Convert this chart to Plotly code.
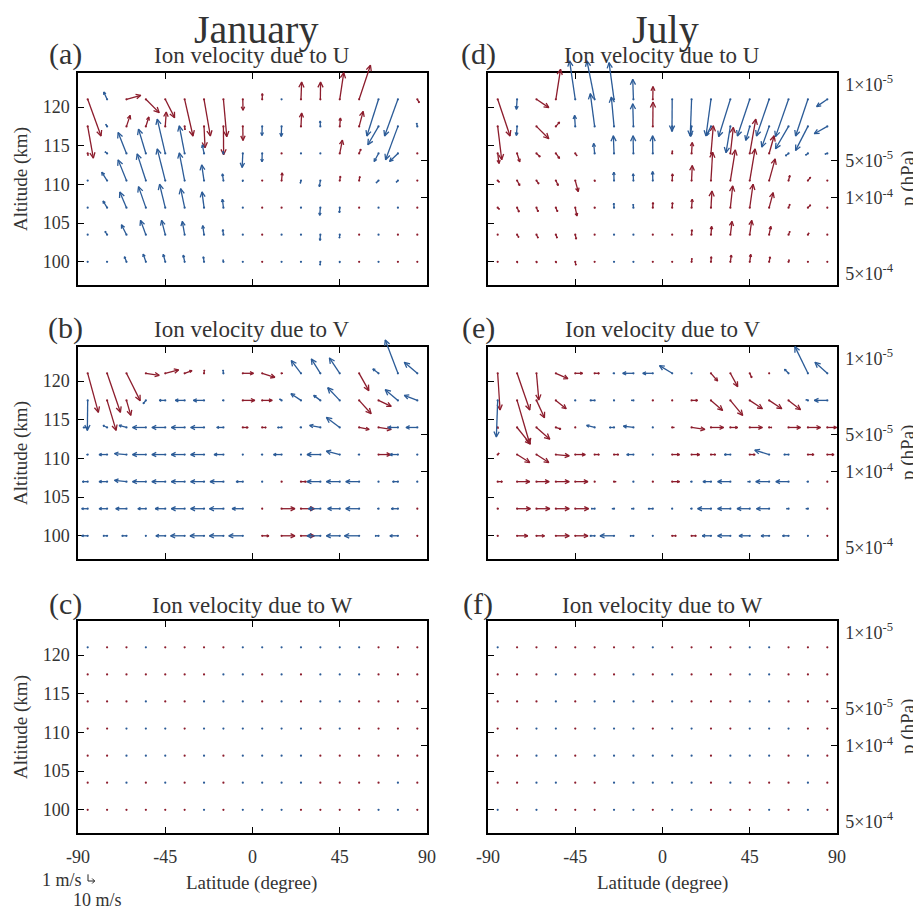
import math
import plotly.graph_objects as go

# ---------------- data ----------------
LAT = [-85, -75, -65, -55, -45, -35, -25, -15, -5, 5, 15, 25, 35, 45, 55, 65, 75, 85]
ALT = [100, 103.5, 107, 110.5, 114, 117.5, 121]          # km (rows, bottom -> top)
LAT_TICKS = [-90, -45, 0, 45, 90]
LAT_TICKTEXT = ["-90", "-45", "0", "45", "90"]
ALT_TICKS = [100, 105, 110, 115, 120]
P_TICKS = [1e-5, 5e-5, 1e-4, 5e-4]
P_TICKTEXT = ["<br>1×10<sup>-5</sup>", "5×10<sup>-5</sup>", "1×10<sup>-4</sup>", "5×10<sup>-4</sup><br> "]

# Ion velocity components (m/s): u = horizontal (meridional), w = vertical
JAN_U_u = [
    [-0.5, -1, -3, -4, -3, -2, -1, -0.5, -0.3, 0.5, -0.3, -0.3, -0.5, -0.5, 0.2, -0.3, 0.5, 0.3],
    [-0.5, -3, -7.5, -8, -5.5, -3.5, -2, -1, -0.3, 0.5, -0.3, -0.3, -0.5, -0.5, 0.5, -0.3, 0.1, 0.5],
    [-0.5, -6, -10, -11, -8.5, -6, -3, -1.5, -0.3, 0.5, 0.5, -0.5, -1, -0.5, 0.5, -0.3, -0.3, 0.5],
    [-0.5, -8, -12.5, -13, -12, -8, -3.5, -1.5, -0.5, 0.5, 1, -1, -1.5, 1, 1, -3.5, -2.5, 0.5],
    [0.5, -3, -12.5, -11, -12, -8, -2.5, -0.5, -1, -0.3, 0.3, -0.5, -0.3, 4, 2.5, -6.5, -12.5, 0.5],
    [8.5, -2, 5.5, 4.5, 1.5, 0.5, 1.5, 0.3, 0.3, -0.3, -0.5, 1, -0.3, 1, 6, -16, -18.5, -1],
    [20, -5, 21.5, 20, 14, 12.5, 9.5, 5, 0.3, 0.3, -0.3, 1, 0.3, 6, 17, -17.5, -20, 3],
]
JAN_U_w = [
    [0, 0.05, 0.75, 1.15, 1.1, 1.0, 0.75, 0.3, 0, 0, 0, 0, -0.5, -0.2, 0, 0, 0, 0],
    [0, 0.5, 1.5, 2.15, 2.15, 2.0, 1.35, 0.75, 0, 0, 0, 0, -0.85, -0.5, 0, 0, 0, 0],
    [0, 1.0, 2.35, 3.15, 3.5, 2.85, 2.35, 1.25, 0, 0, 0, 0.1, -1.15, -0.75, 0, 0, 0, 0],
    [0, 1.25, 3.1, 4.0, 4.75, 4.15, 2.35, 1.0, -0.2, 0, 1.15, -0.4, -0.9, 0.65, 0.6, -0.35, -0.25, 0],
    [-0.3, 0.25, 3.15, 3.65, 5.15, 4.15, 1.3, 0.3, -2.1, -1.25, 0, 0, 0, 2.0, 0.65, -1.2, -1.2, 0],
    [-4.75, 0.3, 1.65, 1.4, 2.15, -0.5, -3.2, -4.25, -2.1, -1.35, -1.5, 2.0, 0.8, 1.25, 2.25, -2.75, -5.0, 0.5],
    [-5.5, 1.1, 0.6, -2.0, -2.75, -5.5, -5.5, -5.6, -1.65, 0.85, 0, 2.6, 2.6, 4.0, 5.1, -5.5, -5.5, -0.5],
]

JAN_V_u = [
    [-9, -6, -7, -1, -14, -21, -21, -21, -21, 10, 20, 20, -20, -20, -22, -5, -12, 1],
    [-9, -12, -16, -12, -15, -20, -20, -21, -16, 1, 20, 20, -18, -18, -20, -2, -10, 1],
    [-8, -12, -18, -20, -20, -20, -20, -20, -10, -1, 1, 8, -20, -20, -20, -1, -8, -1],
    [-2, -12, -18, -20, -20, -20, -20, -14, -1, -2, -12, -0.5, -20, -20, -2, 18, -12, -1],
    [-7, -6, -11, -20, -20, -20, -20, -10, 8, 6, -6, -2, -16, -20, 15, 19, -15, -17],
    [-0.5, 13.5, 6.5, -4, -9, -14, -16, -2, 18, 15, -3, -15, -10, -18, 18, 19, -19, -19.5],
    [16, 20, 20.5, 20, 20, 11, 0.5, -0.5, 16, 19, 2, -14.5, -13.5, -15.5, 14.5, -8.5, -19, -19.5],
]
JAN_V_w = [
    [0] * 18,
    [0] * 18,
    [0, 0, 0.2, 0, 0, 0, 0, 0, 0, 0, 0, 0, 0, 0, 0, 0, 0, 0],
    [0, 0, 0.15, 0, 0, 0, 0, 0, 0, 0, 0, 0, 0, 0.5, 0, 0, 0, 0],
    [0, 0.3, 0.3, 0, 0, 0, 0, 0, 0, 0, 0, 0, 0.3, 1.5, -0.3, -0.3, 0, 0],
    [-4.5, -4.5, -2.25, -0.5, 0, 0, 0, 0, 0, 0, 0.2, 1.0, 0.75, 1.9, -2.0, -0.9, 1.6, 0.75],
    [-5.85, -5.85, -4.1, -0.3, 0.5, 0.4, 0.5, 0.5, 0, -0.6, 0, 1.9, 2.15, 2.3, -2.6, 0.65, 5.0, 1.65],
]

JAN_W_u = [
    [0.3, 0.3, 0.3, 0.3, 0.3, 0.3, -0.3, 0.3, -0.3, -0.3, -0.3, 0.3, 0.3, 0.3, 0.3, -0.3, -0.3, 0.3],
    [0.3, 0.3, -0.3, 0.3, -0.3, 0.3, -0.3, 0.3, -0.3, -0.3, -0.3, -0.3, 0.3, 0.3, 0.3, 0.3, -0.3, 0.3],
    [0.3, 0.3, -0.3, -0.3, -0.3, 0.3, -0.3, 0.3, -0.3, -0.3, -0.3, -0.3, 0.3, 0.3, 0.3, 0.3, 0.3, 0.3],
    [0.3, 0.3, -0.3, -0.3, -0.3, 0.3, -0.3, -0.3, -0.3, -0.3, -0.3, -0.3, 0.3, -0.3, 0.3, 0.3, 0.3, 0.3],
    [0.3, 0.3, 0.3, -0.3, 0.3, 0.3, -0.3, -0.3, -0.3, 0.3, -0.3, 0.3, -0.3, -0.3, 0.3, 0.3, 0.3, 0.3],
    [0.3, 0.3, 0.3, 0.3, 0.3, 0.3, 0.3, -0.3, -0.3, 0.3, -0.3, 0.3, -0.3, -0.3, -0.3, 0.3, 0.3, 0.3],
    [-0.3, 0.3, 0.3, -0.3, 0.3, 0.3, 0.3, 0.3, -0.3, -0.3, -0.3, -0.3, -0.3, -0.3, -0.3, 0.3, 0.3, 0.3],
]
JAN_W_w = [[0] * 18 for _ in range(7)]

JUL_U_u = [
    [0.5, 1, 1, 1, 1, 0.5, -0.3, -0.3, 0.3, 0.3, 0.5, 0.5, 1.5, 1.5, 1.5, 1, 0.5, 0.3],
    [0.5, 2.5, 2.5, 2, 1.5, 0.5, -0.3, -0.3, 0.3, 0.3, 0.5, 1, 2.5, 3, 2.5, 2, 1.5, 0.3],
    [2.5, 3, 2.5, 2.5, 2.5, 1, -0.3, -0.3, 0.3, 0.5, 1, 1.5, 3.5, 5, 6, 2, 4, 1],
    [2.5, 4, 3.5, 3.5, 4.5, 1, -0.3, -0.3, -0.3, 0.5, 1, 2.5, 7.5, 8, 9, 2, 4, 0.5],
    [2, 4, 5.5, 5.5, 2.5, -1.5, -1, -0.5, -0.3, 0.3, 1, 3.5, 4.5, 9, 7.5, -4.5, -3.5, -3.5],
    [6, -1, 18.5, 5.5, -1, -6.5, -4, -1, 0.3, -0.3, -1.5, -6.5, -6.5, -6, -11, -19.5, -18.5, -19.5],
    [18.5, -1, 18.5, 7, -8.5, -11.5, -7.5, -1, 0.3, -0.3, -2, -7.5, -17.5, -18.5, -19, -19.5, -18.5, -16],
]
JUL_U_w = [
    [0, -0.2, -0.2, -0.2, -0.5, 0, 0, 0, 0, 0, 0.5, 0.75, 1.0, 1.1, 0.75, 0.3, 0, 0],
    [0, -0.4, -0.5, -0.5, -0.65, 0, 0, 0, 0, 0, 0.75, 1.25, 2.0, 2.15, 1.25, 0.5, 0.25, 0],
    [-0.25, -0.65, -0.6, -0.6, -1.25, -0.1, 0.65, 0.5, 0.75, 0.75, 1.25, 2.5, 3.25, 3.5, 2.25, 0.5, 0.4, 0],
    [-0.25, -0.75, -0.5, -0.75, -1.65, -0.15, 1.25, 1.0, 1.35, 1.0, 2.25, 4.25, 4.6, 4.75, 3.25, 0.75, 0.5, 0],
    [-1.5, -1.25, -0.5, -0.75, -0.35, 1.5, 2.65, 2.65, 2.65, 0.4, 1.65, 4.15, 3.9, 5.15, 2.65, -0.35, -0.25, -0.1],
    [-5.0, -1.35, -1.85, 0.65, 1.65, 4.9, 4.4, 3.4, 3.65, -0.75, -1.5, -1.35, -3.95, -2.1, -3.1, -3.35, -3.6, -1.1],
    [-5.5, -1.5, -1.25, 4.5, 5.75, 5.75, 5.5, 3.0, 1.9, -4.75, -5.5, -5.5, -5.6, -5.5, -5.5, -5.6, -5.5, -1.1],
]

JUL_V_u = [
    [1, 16, 12, 20, 19, -7, -21, -5, -1, 6, 7, -13, -19, -16, -12, -9, -1, 1],
    [1.5, 20, 20, 20, 20, -5, -3, -3, -7, -1, -2, -20, -19, -19, -19, -3, -3, 1],
    [7, 19, 19, 20, 19, 1, 3, -1, 1, 11, -2, -12, -19, -3, -20, -19, -2, 1],
    [2, 19, 18.5, 20, 15, 7, 7, -10, -1, 11, 12, 7, -9, 8, -21.5, -7, 9, 10],
    [1, 20, 20, 7.5, 1, -12, -7, -15, -1, 3, 20, 19, 11, 19, 4, 18, 19, 14],
    [-2, 19, 12, 15.5, -1, -7, -1, -3, 1, 1, 9, 17.5, 18.5, 19, 19, 18, -3, -19.5],
    [3.5, 19, 3.5, 18, 11, 7, -2, -16, -15, -19, -1, 10, 11, 3, 1, -6, -19.5, -18.5],
]
JUL_V_w = [
    [0] * 18,
    [0] * 18,
    [0] * 18,
    [0.2, -1.2, -1.2, -0.2, 0, 0, 0, 0, 0, 0, 0, 0, 0, 0, 0.65, 0, 0, 0],
    [-0.2, -2.5, -1.75, -0.25, 0, 0.3, 0, 0.2, 0, 0, -0.3, 0, 0, 0, 0, 0, 0, 0],
    [-5.5, -6.5, -2.6, -1.25, 0, 0, 0, 0, 0, 0, 0, -1.5, -2.25, -1.25, -1.25, -1.4, 0.1, 0],
    [-5.5, -5.5, -4.0, -0.8, 0, 0, 0, 0, 0, 1.15, 0, -1.15, -2.0, -0.65, 0, 0.6, 4.0, 1.65],
]

JUL_W_u = [
    [-0.3, 0.3, -0.3, 0.3, 0.3, 0.3, -0.3, -0.3, 0.3, -0.3, -0.3, 0.3, 0.3, 0.3, -0.3, 0.3, -0.3, 0.3],
    [0.3, 0.3, -0.3, -0.3, 0.3, 0.3, -0.3, -0.3, -0.3, -0.3, -0.3, 0.3, -0.3, 0.3, 0.3, 0.3, -0.3, 0.3],
    [0.3, 0.3, -0.3, -0.3, 0.3, -0.3, -0.3, -0.3, -0.3, -0.3, -0.3, 0.3, -0.3, -0.3, -0.3, 0.3, -0.3, 0.3],
    [0.3, 0.3, -0.3, -0.3, 0.3, -0.3, -0.3, -0.3, 0.3, -0.3, -0.3, 0.3, 0.3, -0.3, -0.3, -0.3, 0.3, 0.3],
    [0.3, 0.3, 0.3, -0.3, 0.3, -0.3, -0.3, -0.3, 0.3, -0.3, 0.3, 0.3, 0.3, -0.3, -0.3, 0.3, 0.3, 0.3],
    [0.3, 0.3, 0.3, -0.3, 0.3, 0.3, 0.3, -0.3, 0.3, -0.3, 0.3, 0.3, 0.3, -0.3, -0.3, 0.3, 0.3, 0.3],
    [-0.3, 0.3, 0.3, 0.3, 0.3, 0.3, 0.3, 0.3, -0.3, 0.3, 0.3, 0.3, 0.3, -0.3, -0.3, 0.3, 0.3, 0.3],
]
JUL_W_w = [[0] * 18 for _ in range(7)]

PANELS = [
    ("(a)", "Ion velocity due to U", JAN_U_u, JAN_U_w),
    ("(b)", "Ion velocity due to V", JAN_V_u, JAN_V_w),
    ("(c)", "Ion velocity due to W", JAN_W_u, JAN_W_w),
    ("(d)", "Ion velocity due to U", JUL_U_u, JUL_U_w),
    ("(e)", "Ion velocity due to V", JUL_V_u, JUL_V_w),
    ("(f)", "Ion velocity due to W", JUL_W_u, JUL_W_w),
]
MONTHS = ["January", "July"]

# ---------------- layout / style ----------------
VW, VH = 921, 909          # browser window
OFF = 8                    # default page margin of the html body
FW, FH = VW - OFF, VH - OFF
COL_X = [(78, 427), (488, 837)]          # page pixel positions
ROW_Y = [(73, 285), (347, 559), (621, 833)]
XR = (-90, 90)
YR = (97, 124.4)
P_RANGE = [math.log10(5e-4), -5]
PX_PER_MS_H = 6.67 / 10.0   # 10 m/s horizontal -> 6.67 px
PX_PER_MS_V = 6.67 / 1.0    # 1 m/s vertical   -> 6.67 px
PAD = 30
RED = "#8c1c2c"
BLUE = "#2b5b97"
FONT = "Liberation Serif"
TXT = "#333333"
TICK_SIZE = 18


def px(x):
    return (x - OFF) / FW


def py(y):
    return 1 - (y - OFF) / FH


def aid(kind, n):
    return kind if n == 1 else f"{kind}{n}"


def lname(kind, n):
    return f"{kind}axis" if n == 1 else f"{kind}axis{n}"


fig = go.Figure()
layout = {}

for p, (tag, title, U, Wv) in enumerate(PANELS):
    col, row = p // 3, p % 3
    x0, x1 = COL_X[col]
    y0, y1 = ROW_Y[row]
    pxdeg = (x1 - x0) / (XR[1] - XR[0])
    pxkm = (y1 - y0) / (YR[1] - YR[0])

    xm, xo = 2 * p + 1, 2 * p + 2
    ym, yp, yo = 3 * p + 1, 3 * p + 2, 3 * p + 3

    tick_common = dict(ticks="inside", ticklen=6, tickwidth=1, tickcolor="black",
                       showgrid=False, zeroline=False, showline=True,
                       linecolor="black", linewidth=1.5,
                       tickfont=dict(family=FONT, size=TICK_SIZE, color=TXT))
    layout[lname("x", xm)] = dict(domain=[px(x0), px(x1)], range=list(XR), anchor=aid("y", ym),
                                  tickvals=LAT_TICKS, ticktext=LAT_TICKTEXT, mirror="ticks",
                                  showticklabels=(row == 2), ticklabelstandoff=7, **tick_common)
    layout[lname("y", ym)] = dict(domain=[py(y1), py(y0)], range=list(YR), anchor=aid("x", xm),
                                  tickvals=ALT_TICKS, showticklabels=(col == 0),
                                  ticklabelstandoff=3, **tick_common)
    layout[lname("y", yp)] = dict(overlaying=aid("y", ym), side="right", anchor=aid("x", xm),
                                  type="log", range=P_RANGE, tickvals=P_TICKS, ticktext=P_TICKTEXT,
                                  showticklabels=(col == 1), ticklabelstandoff=3, **tick_common)
    # overlay axes (same scale, larger area) so arrows are not clipped at the frame
    layout[lname("x", xo)] = dict(domain=[px(x0 - PAD), px(x1 + PAD)],
                                  range=[XR[0] - PAD / pxdeg, XR[1] + PAD / pxdeg],
                                  anchor=aid("y", yo), visible=False)
    layout[lname("y", yo)] = dict(domain=[py(y1 + PAD), py(y0 - PAD)],
                                  range=[YR[0] - PAD / pxkm, YR[1] + PAD / pxkm],
                                  anchor=aid("x", xo), visible=False)

    # dummy traces so the frame axes are drawn
    fig.add_trace(go.Scatter(x=[0], y=[110], xaxis=aid("x", xm), yaxis=aid("y", ym),
                             mode="markers", marker=dict(opacity=0), hoverinfo="skip"))
    fig.add_trace(go.Scatter(x=[0], y=[1e-4], xaxis=aid("x", xm), yaxis=aid("y", yp),
                             mode="markers", marker=dict(opacity=0), hoverinfo="skip"))

    # quiver arrows
    segs = {RED: ([], [], [], []), BLUE: ([], [], [], [])}
    for i, z in enumerate(ALT):
        for j, lat in enumerate(LAT):
            u, w = U[i][j], Wv[i][j]
            c = RED if u > 0 else BLUE
            xs, ys, bx, by = segs[c]
            dxp, dyp = u * PX_PER_MS_H, w * PX_PER_MS_V
            L = math.hypot(dxp, dyp)
            tx, tz = lat + dxp / pxdeg, z + dyp / pxkm
            bx.append(lat)
            by.append(z)
            if L < 0.6:
                continue
            xs += [lat, tx, None]
            ys += [z, tz, None]
            if L > 1.5:
                h = min(0.36 * L, 6.0)
                ang = math.atan2(dyp, dxp)
                hx, hy = [], []
                for s in (1, -1):
                    a = ang + math.pi + s * 0.45
                    hx.append(tx + h * math.cos(a) / pxdeg)
                    hy.append(tz + h * math.sin(a) / pxkm)
                xs += [hx[0], tx, hx[1], None]
                ys += [hy[0], tz, hy[1], None]
    for c, (xs, ys, bx, by) in segs.items():
        fig.add_trace(go.Scatter(x=xs, y=ys, xaxis=aid("x", xo), yaxis=aid("y", yo),
                                 mode="lines", line=dict(color=c, width=1.3),
                                 hoverinfo="skip"))
        fig.add_trace(go.Scatter(x=bx, y=by, xaxis=aid("x", xo), yaxis=aid("y", yo),
                                 mode="markers", marker=dict(color=c, size=2.2, line=dict(width=0)),
                                 hoverinfo="skip"))

# ---------------- text ----------------
ann = []


def text(s, x, y, size, angle=0, color=TXT, xanchor="center"):
    ann.append(dict(text=s, x=px(x), y=py(y), xref="paper", yref="paper", showarrow=False,
                    xanchor=xanchor, yanchor="middle", textangle=angle,
                    font=dict(family=FONT, size=size, color=color)))


text(MONTHS[0], 256, 29, 40)
text(MONTHS[1], 665, 29, 40)
TAG_X = [65, 478]
TITLE_X = [252, 662]
TAG_Y = [54, 328, 604]
for p, (tag, title, _, _) in enumerate(PANELS):
    col, row = p // 3, p % 3
    text(tag, TAG_X[col], TAG_Y[row], 30)
    text(title, TITLE_X[col], TAG_Y[row] + 1, 23)
for row in range(3):
    yc = (ROW_Y[row][0] + ROW_Y[row][1]) / 2
    text("Altitude (km)", 21, yc, 19, angle=-90)
    text("p (hPa)", 908, yc, 19, angle=-90)
text("Latitude (degree)", 252, 883, 19)
text("Latitude (degree)", 662, 883, 19)
text("1 m/s", 84, 880, 18, xanchor="right")
text("10 m/s", 97, 900, 18)

# scale-legend arrows
LX, LY = 88, 881
lv = 1 * PX_PER_MS_V
lh = 10 * PX_PER_MS_H
shapes = [
    dict(type="line", xref="paper", yref="paper", x0=px(LX), y0=py(LY), x1=px(LX), y1=py(LY - lv),
         line=dict(color="#222", width=1)),
    dict(type="line", xref="paper", yref="paper", x0=px(LX), y0=py(LY), x1=px(LX + lh), y1=py(LY),
         line=dict(color="#222", width=1)),
    dict(type="line", xref="paper", yref="paper", x0=px(LX + lh - 2.5), y0=py(LY - 2.5),
         x1=px(LX + lh), y1=py(LY), line=dict(color="#222", width=1)),
    dict(type="line", xref="paper", yref="paper", x0=px(LX + lh - 2.5), y0=py(LY + 2.5),
         x1=px(LX + lh), y1=py(LY), line=dict(color="#222", width=1)),
]

fig.update_layout(width=FW, height=FH, autosize=False, showlegend=False,
                  margin=dict(l=0, r=0, t=0, b=0, autoexpand=False),
                  paper_bgcolor="white", plot_bgcolor="rgba(0,0,0,0)",
                  annotations=ann, shapes=shapes, **layout)
fig.write_html("out.html")
